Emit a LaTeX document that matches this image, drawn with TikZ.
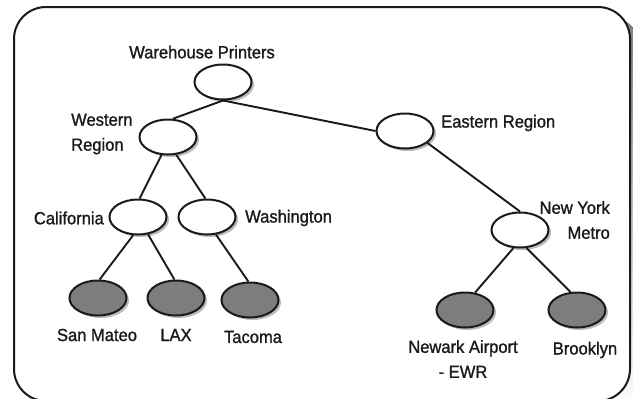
\documentclass[tikz,border=0pt]{standalone}
\usepackage{fontspec}
\setmainfont{Liberation Sans}[FakeStretch=0.94, FakeBold=1.2]
\usetikzlibrary{shapes.geometric,shadows}
\definecolor{ink}{HTML}{1A1A1A}
\definecolor{leaf}{HTML}{7D7D7D}
\definecolor{shade}{HTML}{B8BDBC}
\begin{document}
\begin{tikzpicture}[x=1pt,y=-1pt,
  branch/.style={ellipse, draw=ink, line width=2pt, fill=white,
    minimum width=57pt, minimum height=35pt, inner sep=0pt,
    drop shadow={shadow xshift=2.5pt, shadow yshift=-2.5pt, fill=shade, opacity=1}},
  site/.style={branch, fill=leaf},
  lbl/.style={text=ink, font=\fontsize{17.6}{25}\selectfont, inner sep=0pt},
  link/.style={draw=ink, line width=1.9pt}]
\useasboundingbox (0,0) rectangle (633,399);
\clip (0,0) rectangle (633,399);

% outer frame and its shadow
\fill[shade, rounded corners=32pt] (24,17) rectangle (641,412);
\draw[ink, line width=2pt, fill=white, rounded corners=32pt] (14,7) rectangle (630,401);

% hierarchy nodes
\node[branch] (wp)   at (223,82)  {};
\node[branch] (west) at (168,137) {};
\node[branch] (east) at (405,131) {};
\node[branch] (cal)  at (138,217) {};
\node[branch] (wash) at (207,217) {};
\node[branch] (nym)  at (520,230) {};
\node[site]   (sm)   at (98,298)  {};
\node[site]   (lax)  at (176,298) {};
\node[site]   (tac)  at (250,300) {};
\node[site]   (nwk)  at (465,310) {};
\node[site]   (bk)   at (577,310) {};

% connectors
\draw[link] (wp.south) -- (west.75);
\draw[link] (wp.south) -- (east.west);
\draw[link] (west.250) -- (cal.85);
\draw[link] (west.295) -- (wash.95);
\draw[link] (east.332) -- (nym.north);
\draw[link] (cal.255) -- (sm.85);
\draw[link] (cal.300) -- (lax.95);
\draw[link] (wash.297) -- (tac.95);
\draw[link] (nym.250) -- (nwk.60);
\draw[link] (nym.290) -- (bk.110);

% labels
\node[lbl] (wp-t)   at (202,52)  {Warehouse Printers};
\node[lbl, anchor=west, align=left] (west-t) at (71,134) {Western\\Region};
\node[lbl, anchor=west] (east-t) at (441,123) {Eastern Region};
\node[lbl, anchor=east] (cal-t)  at (104,218) {California};
\node[lbl, anchor=west] (wash-t) at (245,218) {Washington};
\node[lbl, anchor=east, align=right] (nym-t) at (610,220) {New York\\Metro};
\node[lbl] (sm-t)  at (97,335)  {San Mateo};
\node[lbl] (lax-t) at (176,335) {LAX};
\node[lbl] (tac-t) at (253,337) {Tacoma};
\node[lbl, align=center] (nwk-t) at (463,359) {Newark Airport\\- EWR};
\node[lbl] (bk-t)  at (585,350) {Brooklyn};
\end{tikzpicture}
\end{document}
